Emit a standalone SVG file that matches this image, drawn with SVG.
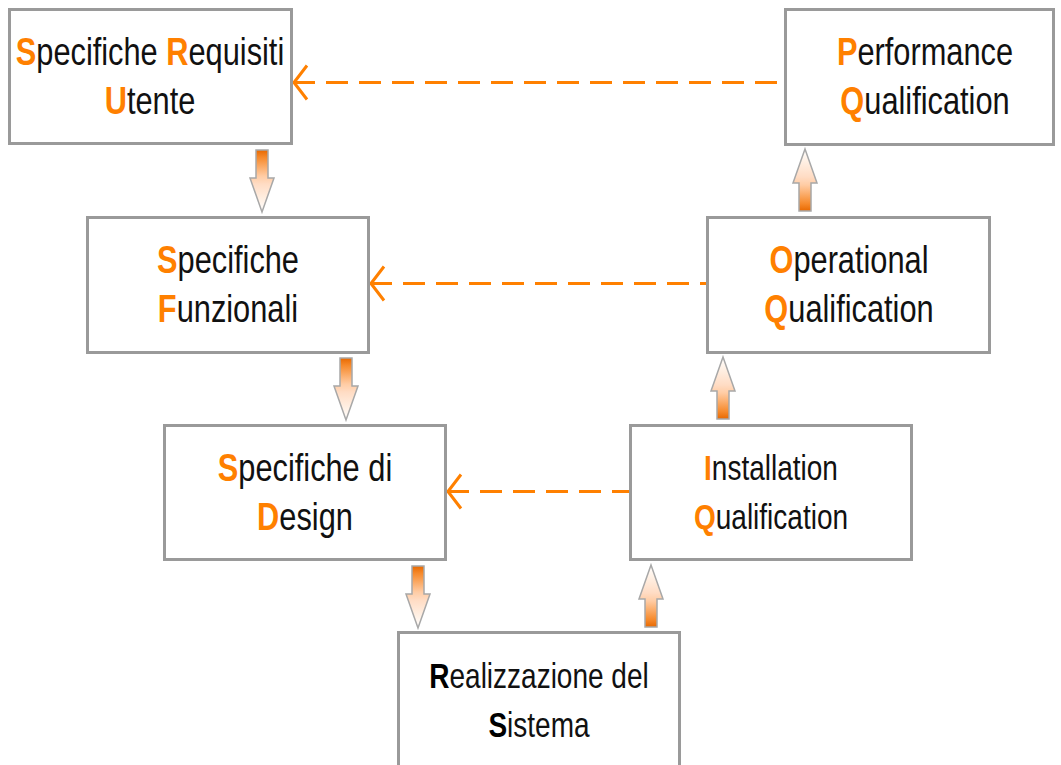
<svg xmlns="http://www.w3.org/2000/svg" width="1061" height="765" viewBox="0 0 1061 765">
<style>
.box{fill:#fff;stroke:#9a9a9a;stroke-width:3}
.lbl{font-family:"Liberation Sans",Arial,sans-serif;font-size:38px;fill:#111;text-anchor:middle}
.sm{font-size:35px}
.k{font-weight:bold;fill:#ff8000}
.kb{font-weight:bold;fill:#000}
.dash{stroke:#ff8000;stroke-width:3;stroke-dasharray:22 11;fill:none}
.blk{fill:url(#grad);stroke:#a8a8a8;stroke-width:1.5}
</style>
<defs>
<linearGradient id="grad" x1="0" y1="0" x2="0" y2="1">
<stop offset="0" stop-color="#e86800"/>
<stop offset="0.12" stop-color="#f68a2c"/>
<stop offset="0.42" stop-color="#ffcca4"/>
<stop offset="0.55" stop-color="#ffdcc4"/>
<stop offset="0.8" stop-color="#fff0e4"/>
<stop offset="1" stop-color="#ffffff"/>
</linearGradient>
<path id="arr" d="M-6,0 L6,0 L6,28 L12,28 L0,62 L-12,28 L-6,28 Z"/>
<marker id="chev" markerUnits="userSpaceOnUse" markerWidth="20" markerHeight="40" viewBox="0 -20 20 40" refX="0" refY="0" orient="auto">
<path d="M14,-17 L1,0 L14,17" fill="none" stroke="#ff8000" stroke-width="3"/>
</marker>
</defs>

<g id="connectors">
<line class="dash" x1="293" y1="82.5" x2="785" y2="82.5" marker-start="url(#chev)"/>
<line class="dash" x1="370" y1="283.5" x2="707" y2="283.5" marker-start="url(#chev)"/>
<line class="dash" x1="447" y1="491.5" x2="630" y2="491.5" marker-start="url(#chev)"/>
<use href="#arr" class="blk" transform="translate(262,150)"/>
<use href="#arr" class="blk" transform="translate(346,358)"/>
<use href="#arr" class="blk" transform="translate(418,566)"/>
<use href="#arr" class="blk" transform="translate(805,211) scale(1,-1)"/>
<use href="#arr" class="blk" transform="translate(723,419) scale(1,-1)"/>
<use href="#arr" class="blk" transform="translate(651,627) scale(1,-1)"/>
</g>

<g id="n1">
<rect class="box" x="9.5" y="9.5" width="282" height="134"/>
<g transform="translate(150,0) scale(0.81,1)">
<text class="lbl" x="0" y="65"><tspan class="k">S</tspan>pecifiche <tspan class="k">R</tspan>equisiti</text>
<text class="lbl" x="0" y="114"><tspan class="k">U</tspan>tente</text>
</g>
</g>

<g id="n2">
<rect class="box" x="785.5" y="9.5" width="268" height="135"/>
<g transform="translate(925,0) scale(0.81,1)">
<text class="lbl" x="0" y="65"><tspan class="k">P</tspan>erformance</text>
<text class="lbl" x="0" y="114"><tspan class="k">Q</tspan>ualification</text>
</g>
</g>

<g id="n3">
<rect class="box" x="87.5" y="217.5" width="281" height="135"/>
<g transform="translate(228,0) scale(0.81,1)">
<text class="lbl" x="0" y="273"><tspan class="k">S</tspan>pecifiche</text>
<text class="lbl" x="0" y="322"><tspan class="k">F</tspan>unzionali</text>
</g>
</g>

<g id="n4">
<rect class="box" x="707.5" y="217.5" width="282" height="135"/>
<g transform="translate(849,0) scale(0.81,1)">
<text class="lbl" x="0" y="273"><tspan class="k">O</tspan>perational</text>
<text class="lbl" x="0" y="322"><tspan class="k">Q</tspan>ualification</text>
</g>
</g>

<g id="n5">
<rect class="box" x="164.5" y="425.5" width="281" height="134"/>
<g transform="translate(305,0) scale(0.81,1)">
<text class="lbl" x="0" y="481"><tspan class="k">S</tspan>pecifiche di</text>
<text class="lbl" x="0" y="530"><tspan class="k">D</tspan>esign</text>
</g>
</g>

<g id="n6">
<rect class="box" x="630.5" y="425.5" width="281" height="134"/>
<g transform="translate(771,0) scale(0.8,1)">
<text class="lbl sm" x="0" y="480"><tspan class="k">I</tspan>nstallation</text>
<text class="lbl sm" x="0" y="529"><tspan class="k">Q</tspan>ualification</text>
</g>
</g>

<g id="n7">
<rect class="box" x="398.5" y="632.5" width="281" height="150"/>
<g transform="translate(539,0) scale(0.8,1)">
<text class="lbl sm" x="0" y="688"><tspan class="kb">R</tspan>ealizzazione del</text>
<text class="lbl sm" x="0" y="737"><tspan class="kb">S</tspan>istema</text>
</g>
</g>
</svg>
